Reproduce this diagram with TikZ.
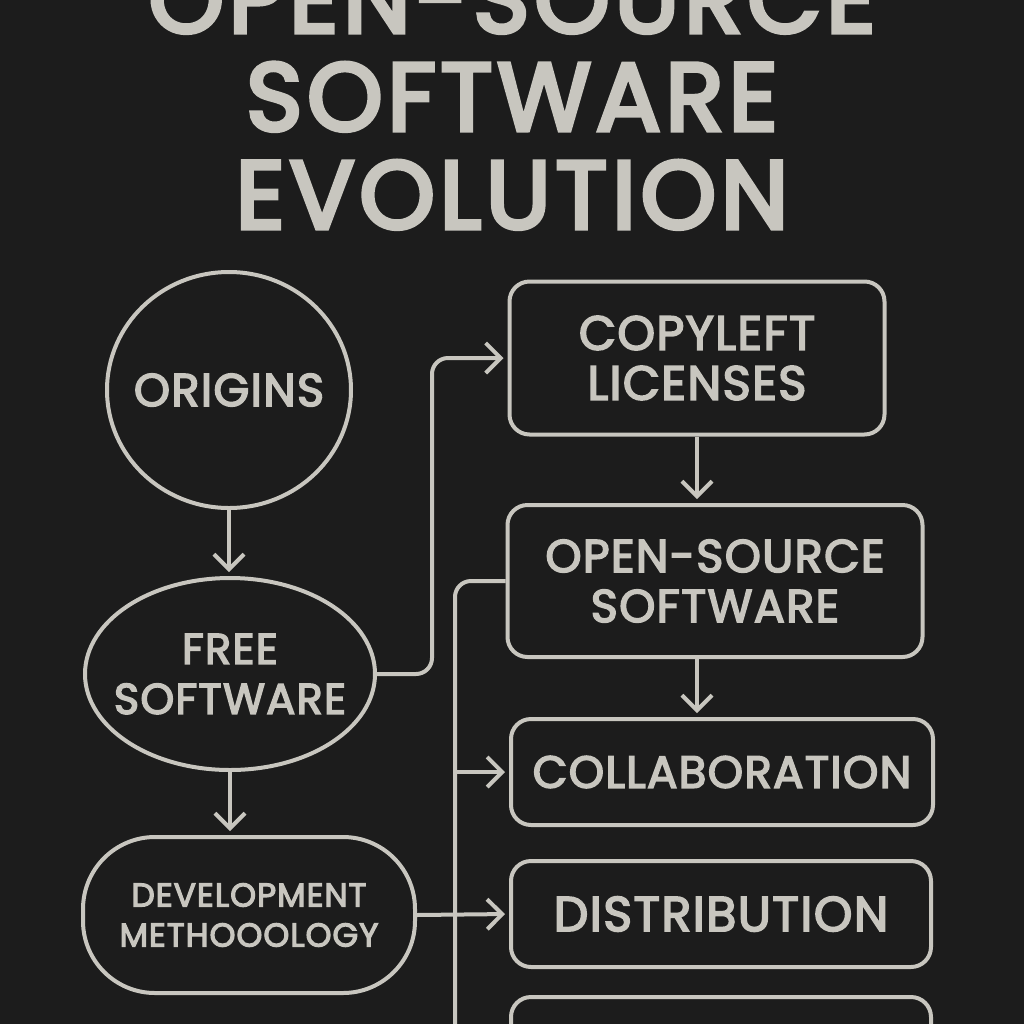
\documentclass[tikz,border=0pt]{standalone}
\usepackage{fontspec}
\setmainfont{Poppins}[FakeBold=3.5, LetterSpace=3]
\newfontfamily\headfont{Poppins}[FakeBold=4.5, LetterSpace=5]
\usetikzlibrary{arrows.meta,shapes.geometric,positioning}
\definecolor{board}{RGB}{28,28,28}
\definecolor{chalk}{RGB}{200,198,191}

\begin{document}
\begin{tikzpicture}
	[x=0.5pt, y=-0.5pt, line width=2pt, draw=chalk, text=chalk, inner sep=0pt,
	stage/.style	= {ellipse, draw, align=center},
	topic/.style	= {rectangle, rounded corners=10pt, draw, align=center},
	lines/.style	= {rounded corners=8pt},
	paths/.style	= {-{Straight Barb[length=7.5pt, width=15pt]}, shorten >= 2pt}]

	\useasboundingbox (0,0) rectangle (1024,1024);
	\clip (0,0) rectangle (1024,1024);
	\fill [board] (0,0) rectangle (1024,1024);

	\node at (512, 231) [anchor=south, align=center, font=\headfont\fontsize{48}{49}\selectfont] (title)
		{OPEN-SOURCE\\SOFTWARE\\EVOLUTION};

	\node at (229, 390)	[stage, inner xsep=-5pt, minimum width=122pt, minimum height=118pt, font=\fontsize{23}{25}\selectfont]	(origins)	{ORIGINS};
	\node at (230, 674)	[stage, inner xsep=-10pt, minimum width=145pt, minimum height=96pt, font=\fontsize{21.5}{25}\selectfont]	(free)	{FREE\\SOFTWARE};
	\node at (249, 915)	[topic, rounded corners=36pt, minimum width=166pt, minimum height=78pt, font=\fontsize{16.5}{20}\selectfont]	(dev)	{DEVELOPMENT\\METHOOOLOGY};

	\node at (697, 358)	[topic, minimum width=187.5pt, minimum height=76.5pt, font=\fontsize{24}{25}\selectfont]	(copyleft)	{COPYLEFT\\LICENSES};
	\node at (715, 581)	[topic, minimum width=207.5pt, minimum height=76pt, font=\fontsize{23}{25}\selectfont]	(oss)	{OPEN-SOURCE\\SOFTWARE};
	\node at (722, 772)	[topic, minimum width=211pt, minimum height=53pt, font=\fontsize{22.5}{26}\selectfont]	(collab)	{COLLABORATION};
	\node at (721, 914)	[topic, minimum width=210pt, minimum height=53pt, font=\fontsize{24.5}{26}\selectfont]	(distrib)	{DISTRIBUTION};
	\node at (721, 1050)	[topic, minimum width=210pt, minimum height=53pt]	(next)	{};

	\coordinate (trunkend) at (455, 1040);

	\draw [paths] (origins.south) -- (origins.south |- free.north);
	\draw [paths] (free.south) -- (free.south |- dev.north);
	\draw [paths] (copyleft.south) -- (copyleft.south |- oss.north);
	\draw [paths] (copyleft.south |- oss.south) -- (copyleft.south |- collab.north);

	\draw [paths, lines] (free.east) -- ++(55,0) |- (copyleft.west);
	\draw [lines] (oss.west) -| (trunkend);
	\draw [paths] (collab.west -| trunkend) -- (collab.west);
	\draw [paths] (dev.east) -- (distrib.west);
\end{tikzpicture}
\end{document}
